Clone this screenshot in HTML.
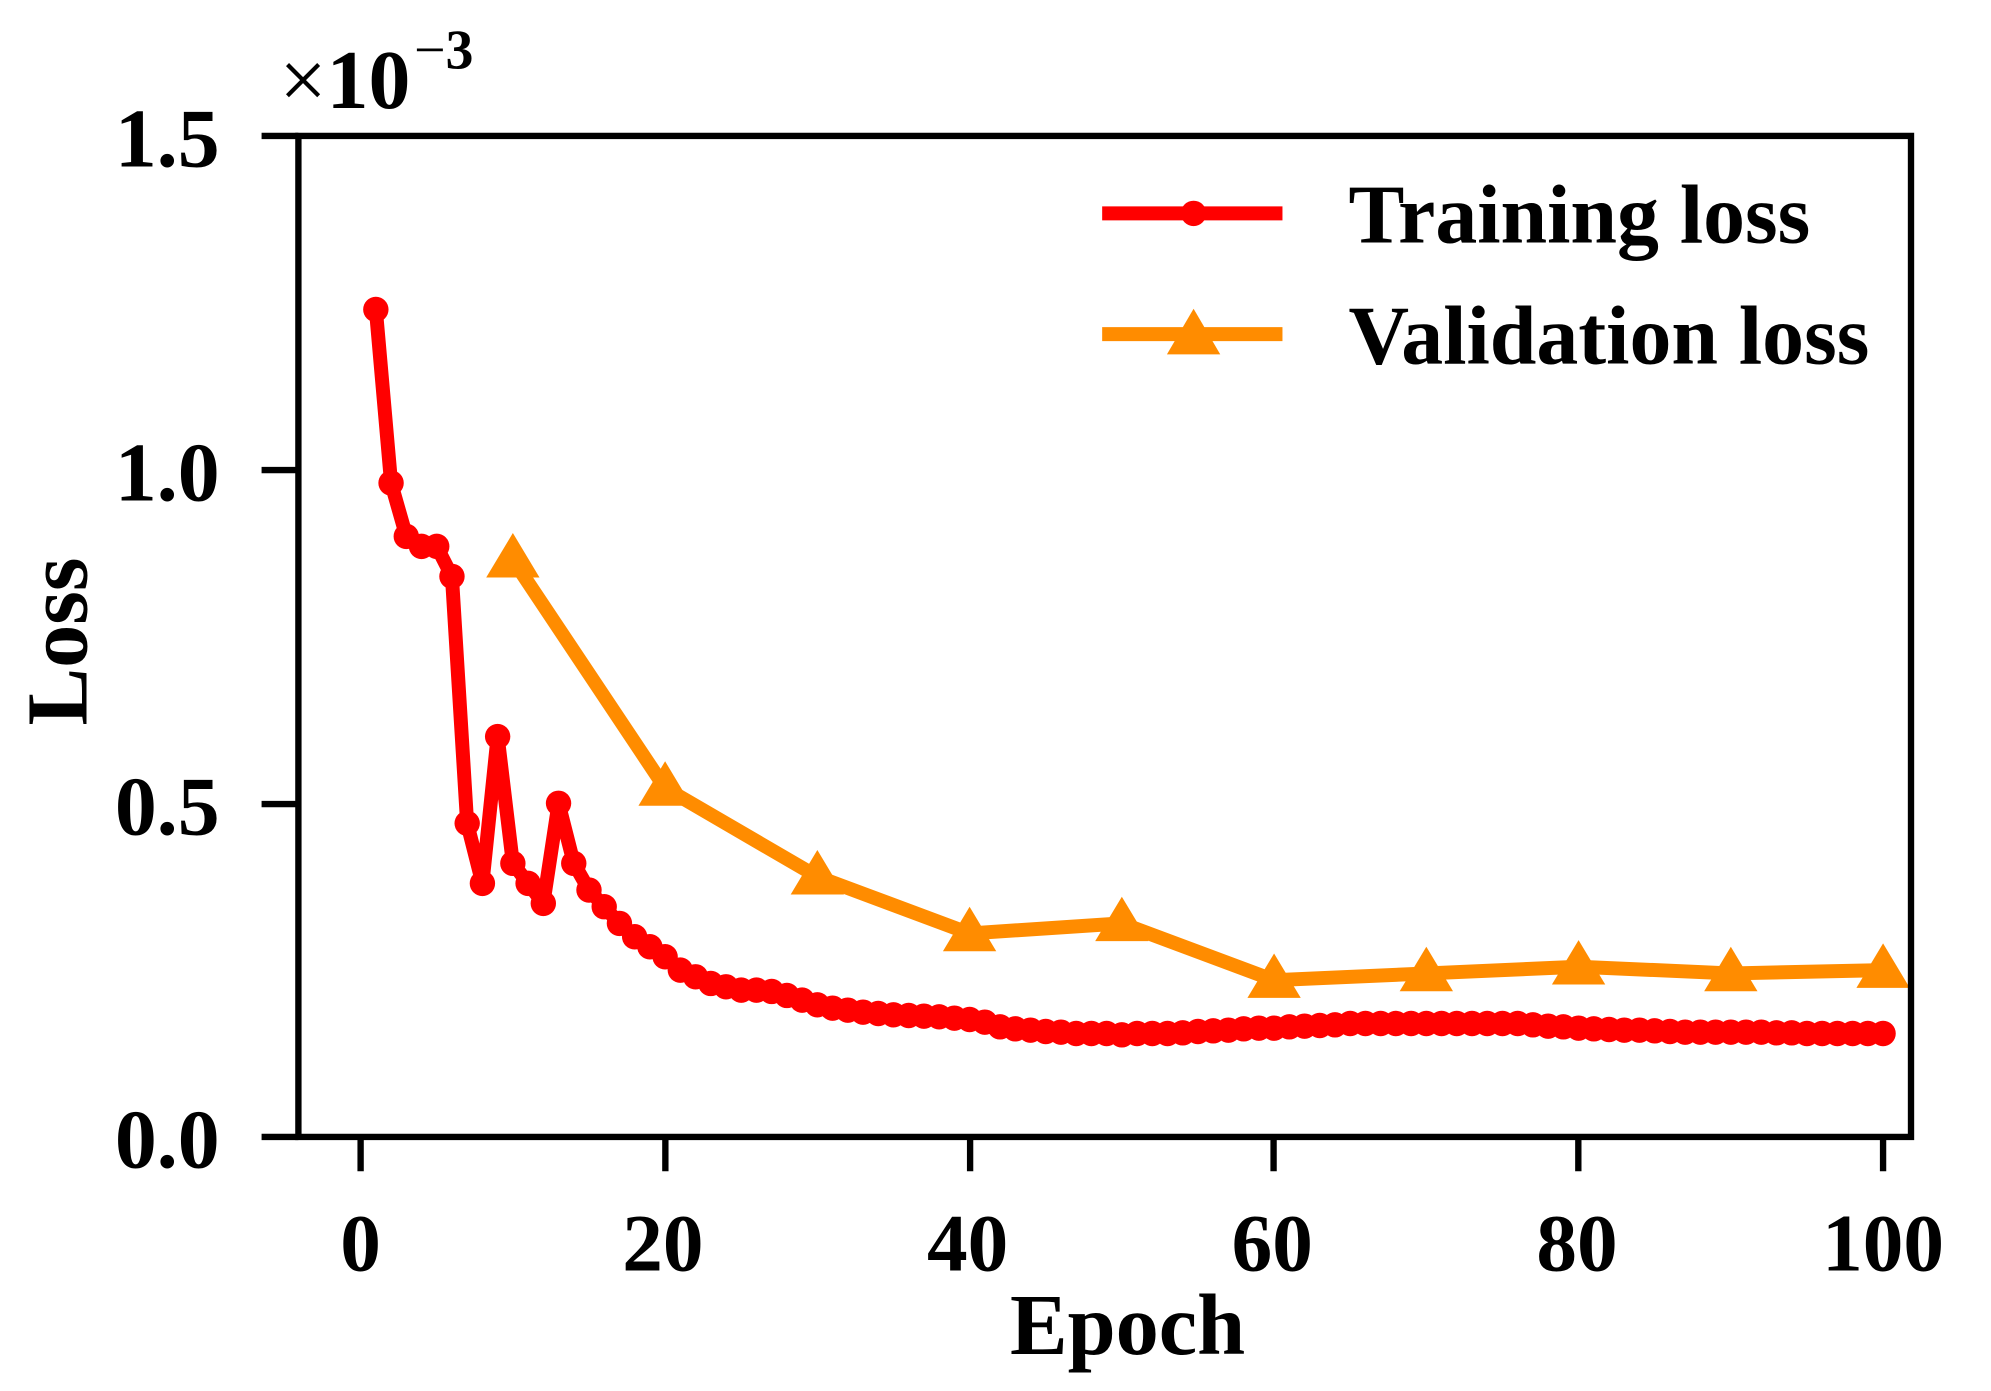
<!DOCTYPE html>
<html><head><meta charset="utf-8"><style>
html,body{margin:0;padding:0;background:#fff;}
svg{display:block;}
text{font-family:"Liberation Serif",serif;font-weight:bold;fill:#000;}
</style></head><body>
<svg id="s" width="1991" height="1391" viewBox="0 0 1568 1095" preserveAspectRatio="none" xmlns="http://www.w3.org/2000/svg">
<rect x="0" y="0" width="1568" height="1095" fill="#fff"/>
<g id="plot"></g>
<rect x="235" y="107" width="1270" height="788" fill="none" stroke="#000" stroke-width="5"/>
<g stroke="#000" stroke-width="5">
<line x1="206" y1="107" x2="235" y2="107"/><line x1="206" y1="370" x2="235" y2="370"/>
<line x1="206" y1="633" x2="235" y2="633"/><line x1="206" y1="895" x2="235" y2="895"/>
<line x1="284" y1="895" x2="284" y2="922"/><line x1="524" y1="895" x2="524" y2="922"/>
<line x1="764" y1="895" x2="764" y2="922"/><line x1="1003" y1="895" x2="1003" y2="922"/>
<line x1="1243" y1="895" x2="1243" y2="922"/><line x1="1483" y1="895" x2="1483" y2="922"/>
</g>
<g font-size="66" text-anchor="end">
<text x="173" y="131">1.5</text><text x="173" y="394">1.0</text>
<text x="173" y="657">0.5</text><text x="173" y="919">0.0</text>
</g>
<g font-size="64" text-anchor="middle">
<text x="284" y="1000">0</text><text x="522" y="1000">20</text><text x="762" y="1000">40</text>
<text x="1002" y="1000">60</text><text x="1242" y="1000">80</text><text x="1483" y="1000">100</text>
<text x="888" y="1066" font-size="68">Epoch</text>
<text transform="translate(68,505) rotate(-90)" font-size="68">Loss</text>
</g>
<text x="220" y="85" font-size="66"><tspan style="font-weight:normal">×</tspan>10</text>
<text x="326" y="54" font-size="44"><tspan style="font-weight:normal">−</tspan>3</text>
<g>
<line x1="868" y1="168" x2="1010" y2="168" stroke="#ff0000" stroke-width="11"/>
<circle cx="940" cy="168" r="10" fill="#ff0000"/>
<line x1="868" y1="263" x2="1010" y2="263" stroke="#ff8c00" stroke-width="11"/>
<polygon points="940,243 919,279 961,279" fill="#ff8c00"/>
<text x="1062" y="191" font-size="66">Training loss</text>
<text x="1062" y="286" font-size="66">Validation loss</text>
</g>
</svg>
<script>
(function(){
var ns="http://www.w3.org/2000/svg",g=document.getElementById("plot");
function X(e){return 284+e*11.99;}function Y(v){return 895-v*525.3;}
var tr={1:1.24,2:0.98,3:0.90,4:0.885,5:0.885,6:0.84,7:0.47,8:0.38,9:0.60,10:0.41,11:0.38,12:0.35,13:0.50,14:0.41,15:0.37,16:0.345,17:0.32,18:0.30,19:0.285,20:0.27,21:0.25,22:0.24,23:0.23,24:0.225,25:0.22,26:0.22,27:0.218,28:0.212,29:0.205,30:0.198,31:0.193,32:0.19,33:0.187,34:0.185,35:0.183,36:0.182,37:0.181,38:0.18,39:0.178,40:0.176,41:0.172,42:0.165,43:0.162,44:0.16,45:0.158,46:0.157,47:0.155,48:0.155,49:0.155,50:0.153,51:0.155,52:0.155,53:0.155,54:0.156,55:0.158,56:0.159,57:0.16,58:0.162,59:0.163,60:0.163,61:0.165,62:0.166,63:0.167,64:0.168,65:0.17,66:0.17,67:0.17,68:0.17,69:0.17,70:0.17,71:0.17,72:0.17,73:0.17,74:0.17,75:0.17,76:0.17,77:0.168,78:0.166,79:0.165,80:0.163,81:0.162,82:0.161,83:0.16,84:0.16,85:0.159,86:0.158,87:0.157,88:0.157,89:0.157,90:0.157,91:0.157,92:0.157,93:0.156,94:0.156,95:0.155,96:0.155,97:0.155,98:0.155,99:0.155,100:0.155};
var va=[[10,0.865],[20,0.523],[30,0.39],[40,0.305],[50,0.32],[60,0.235],[70,0.245],[80,0.255],[90,0.245],[100,0.25]];
function el(t,a){var e=document.createElementNS(ns,t);for(var k in a)e.setAttribute(k,a[k]);g.appendChild(e);return e;}
var p=[];for(var i=1;i<=100;i++)p.push(X(i).toFixed(1)+","+Y(tr[i]).toFixed(1));
var q=va.map(function(d){return X(d[0]).toFixed(1)+","+Y(d[1]).toFixed(1);});
el("polyline",{points:q.join(" "),fill:"none",stroke:"#ff8c00","stroke-width":11,"stroke-linejoin":"round"});
el("polyline",{points:p.join(" "),fill:"none",stroke:"#ff0000","stroke-width":11,"stroke-linejoin":"round"});
for(i=1;i<=100;i++)el("circle",{cx:X(i),cy:Y(tr[i]),r:10,fill:"#ff0000"});
va.forEach(function(d){var x=X(d[0]),y=Y(d[1]);el("polygon",{points:x+","+(y-21)+" "+(x-21)+","+(y+14)+" "+(x+21)+","+(y+14),fill:"#ff8c00"});});
})();
</script>
</body></html>
